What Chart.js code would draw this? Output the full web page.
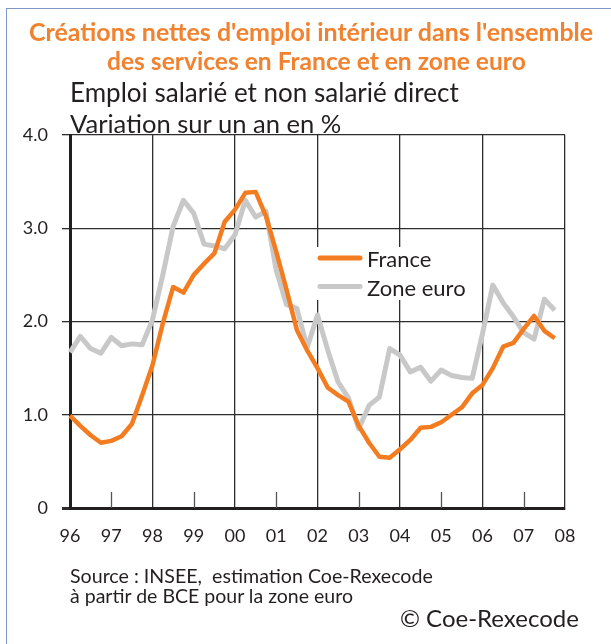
<!DOCTYPE html>
<html lang="fr">
<head>
<meta charset="utf-8">
<script src="https://cdn.jsdelivr.net/npm/chart.js@4.4.1/dist/chart.umd.min.js"></script>
<style>
  html, body { margin: 0; padding: 0; background: #fff; }
  body { width: 611px; height: 644px; position: relative; overflow: hidden; font-family: Lato, sans-serif; color: #231f20; }
  #frame { position: absolute; left: 6px; top: 8px; right: -2px; bottom: -2px; border-top: 1px solid #7f97c4; border-left: 1px solid #7f97c4; }
  #chart { position: absolute; left: 0; top: 0; }
  .txt { position: absolute; white-space: pre; line-height: 1.2; }
  .title { color: #f08230; font-weight: 700; }
</style>
</head>
<body>
<div id="frame"></div>
<canvas id="chart" width="611" height="644"></canvas>
<div class="txt title" id="t1">Créations nettes d'emploi intérieur dans l'ensemble</div>
<div class="txt title" id="t2">des services en France et en zone euro</div>
<div class="txt" id="s1">Emploi salarié et non salarié direct</div>
<div class="txt" id="s2">Variation sur un an en %</div>
<div class="txt" id="src1">Source : INSEE,  estimation Coe-Rexecode</div>
<div class="txt" id="src2">à partir de BCE pour la zone euro</div>
<div class="txt" id="copy">© Coe-Rexecode</div>
<script>
// tick labels (years) and quarterly categories
const years = ['96', '97', '98', '99', '00', '01', '02', '03', '04', '05', '06', '07', '08'];
const quarters = [];
years.forEach(function (y) { for (let q = 1; q <= 4; q++) quarters.push(y + 'T' + q); });
quarters.length = (years.length - 1) * 4 + 1; // ends on 08T1

// year-on-year change, %, 1996T1 .. 2007T4
const france = [
  0.99, 0.88, 0.78, 0.70,
  0.72, 0.77, 0.90, 1.21,
  1.53, 1.98, 2.37, 2.31,
  2.50, 2.62, 2.73, 3.07,
  3.20, 3.38, 3.39, 3.13,
  2.75, 2.34, 1.91, 1.69,
  1.50, 1.29, 1.21, 1.14,
  0.88, 0.70, 0.55, 0.54,
  0.63, 0.73, 0.86, 0.87,
  0.92, 1.00, 1.08, 1.23,
  1.32, 1.50, 1.73, 1.77,
  1.92, 2.06, 1.90, 1.82
];
const zoneEuro = [
  1.67, 1.84, 1.71, 1.66,
  1.83, 1.74, 1.76, 1.75,
  2.02, 2.50, 3.02, 3.30,
  3.16, 2.83, 2.81, 2.78,
  2.93, 3.30, 3.12, 3.18,
  2.55, 2.18, 2.14, 1.72,
  2.07, 1.69, 1.35, 1.18,
  0.85, 1.10, 1.19, 1.71,
  1.64, 1.46, 1.51, 1.36,
  1.48, 1.42, 1.40, 1.39,
  1.87, 2.39, 2.20, 2.05,
  1.88, 1.81, 2.24, 2.12
];
const yTicks = [0, 1, 2, 3, 4];

// size html texts to the width they have in the original
function place(id, x, baseline, width, align) {
  const el = document.getElementById(id);
  const cs = getComputedStyle(el);
  const c = document.createElement('canvas').getContext('2d');
  c.font = cs.fontWeight + ' 100px ' + cs.fontFamily;
  const size = 100 * width / c.measureText(el.textContent).width;
  el.style.fontSize = size + 'px';
  el.style.top = (baseline - 0.987 * size) + 'px';
  el.style.left = (align === 'center' ? x - width / 2 : x) + 'px';
}
place('t1', 29, 42, 565);
place('t2', 107, 70, 419);
place('s1', 70, 103, 389);
place('s2', 70, 133, 272);
place('src1', 70, 583, 363);
place('src2', 70, 603, 284);
place('copy', 400, 628, 179);

const ink = '#231f20';
const grid = '#2e2e2e';

// short ticks on odd years + legend box inside the plot
const decor = {
  id: 'decor',
  beforeDatasetsDraw(chart) {
    const ctx = chart.ctx;
    const xs = chart.scales.x;
    const area = chart.chartArea;
    ctx.save();
    ctx.strokeStyle = '#555';
    ctx.lineWidth = 1.3;
    years.forEach(function (y, i) {
      if (i % 2 === 1) {
        const px = Math.round(xs.getPixelForValue(i * 4)) + 0.5;
        ctx.beginPath();
        ctx.moveTo(px, area.bottom - 16);
        ctx.lineTo(px, area.bottom);
        ctx.stroke();
      }
    });

    const lx = 313, ly = 247;
    ctx.fillStyle = '#fff';
    ctx.fillRect(lx, ly, 167, 53);
    ctx.font = '22px Lato, sans-serif';
    ctx.textBaseline = 'alphabetic';
    chart.data.datasets.forEach(function (ds, i) {
      const cy = 258 + i * 28.5;
      ctx.strokeStyle = ds.borderColor;
      ctx.lineWidth = 5;
      ctx.lineCap = 'round';
      ctx.beginPath();
      ctx.moveTo(lx + 7, cy);
      ctx.lineTo(lx + 47, cy);
      ctx.stroke();
      ctx.fillStyle = ink;
      ctx.fillText(ds.label, lx + 54, cy + 9);
    });
    ctx.restore();
  }
};

new Chart(document.getElementById('chart'), {
  type: 'line',
  data: {
    labels: quarters,
    datasets: [{
      label: 'France',
      data: france,
      borderColor: '#f47c20',
      borderWidth: 4.5,
      pointRadius: 0,
      tension: 0,
      borderJoinStyle: 'round'
    }, {
      label: 'Zone euro',
      data: zoneEuro,
      borderColor: '#c8c8c8',
      borderWidth: 5,
      pointRadius: 0,
      tension: 0,
      borderJoinStyle: 'round'
    }]
  },
  options: {
    responsive: false,
    animation: false,
    layout: { padding: { top: 135, right: 46, left: 0, bottom: 0 } },
    plugins: {
      legend: { display: false },
      tooltip: { enabled: false }
    },
    scales: {
      x: {
        type: 'category',
        afterFit: function (s) { s.height = 136; },
        border: { color: ink, width: 3 },
        grid: {
          drawTicks: false,
          lineWidth: 1.3,
          color: function (c) {
            return (c.index % 8 === 0) ? grid : 'rgba(0,0,0,0)';
          }
        },
        ticks: {
          autoSkip: false,
          maxRotation: 0,
          minRotation: 0,
          padding: 17,
          color: ink,
          font: { family: 'Lato, sans-serif', size: 18 },
          callback: function (v, i) { return i % 4 === 0 ? years[i / 4] : ''; }
        }
      },
      y: {
        min: 0,
        max: 4,
        afterFit: function (s) { s.width = 70; },
        afterBuildTicks: function (s) { s.ticks = yTicks.map(function (v) { return { value: v }; }); },
        border: { color: ink, width: 3 },
        grid: {
          color: grid,
          tickColor: grid,
          tickLength: 8,
          lineWidth: function (c) { return c.tick && c.tick.value === 0 ? 3 : 1.3; }
        },
        ticks: {
          padding: 14,
          color: ink,
          font: { family: 'Lato, sans-serif', size: 18 },
          callback: function (v) { return v === 0 ? '0' : v.toFixed(1); }
        }
      }
    }
  },
  plugins: [decor]
});
</script>
</body>
</html>
